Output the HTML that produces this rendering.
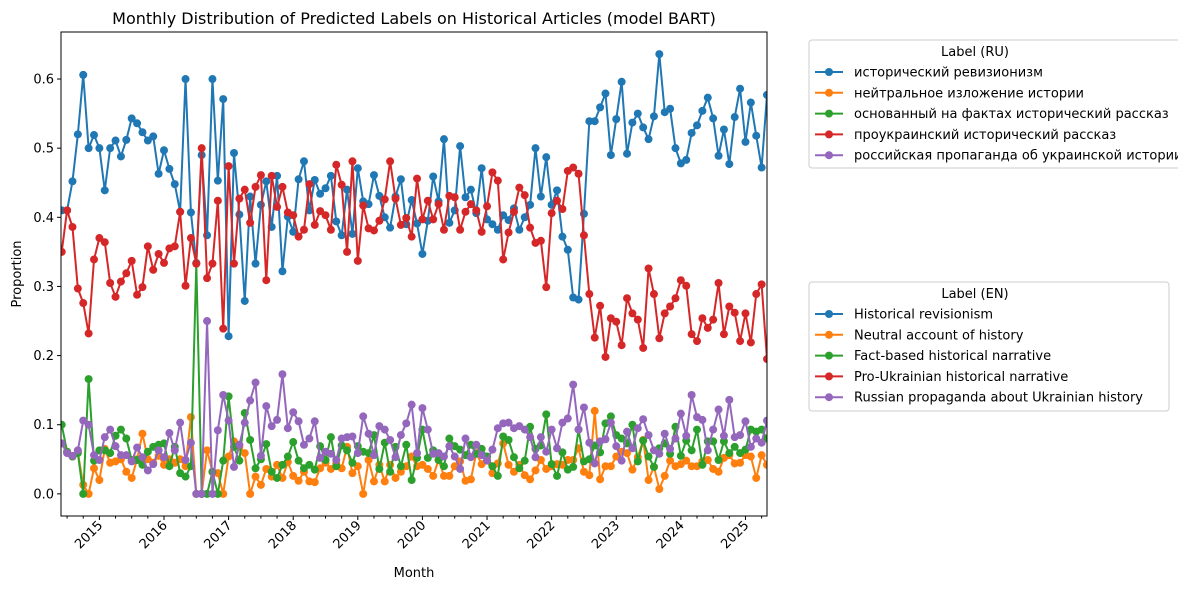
<!DOCTYPE html>
<html><head><meta charset="utf-8">
<style>
body{margin:0;background:#fff;}
svg{display:block;font-family:"DejaVu Sans","Liberation Sans",sans-serif;}
</style></head>
<body>
<svg id="chart" width="1178" height="590" viewBox="0 0 1178 590" xmlns="http://www.w3.org/2000/svg">
<text x="414" y="24" font-size="16" text-anchor="middle" fill="#000">Monthly Distribution of Predicted Labels on Historical Articles (model BART)</text>
<text transform="translate(21,274) rotate(-90)" font-size="13" text-anchor="middle">Proportion</text>
<text x="414" y="577" font-size="13" text-anchor="middle">Month</text>
<g id="axes"></g>
<g id="series"></g>
<rect x="61" y="32" width="706" height="484" fill="none" stroke="#000" stroke-width="1"/>
<g id="legends"></g>
</svg>
<script>
const startYear = 2014, startMonth = 6; // first month of data
const yTicks = [0.0, 0.1, 0.2, 0.3, 0.4, 0.5, 0.6];
const yearTicks = [2015, 2016, 2017, 2018, 2019, 2020, 2021, 2022, 2023, 2024, 2025];
const labelsRU = ["исторический ревизионизм","нейтральное изложение истории","основанный на фактах исторический рассказ","проукраинский исторический рассказ","российская пропаганда об украинской истории"];
const labelsEN = ["Historical revisionism","Neutral account of history","Fact-based historical narrative","Pro-Ukrainian historical narrative","Russian propaganda about Ukrainian history"];
const colors = ["#1f77b4","#ff7f0e","#2ca02c","#d62728","#9467bd"];

const revisionism = [0.41,0.41,0.452,0.52,0.606,0.50,0.519,0.50,0.439,0.50,0.511,0.488,0.512,0.543,0.536,0.523,0.511,0.517,0.463,0.497,0.47,0.448,0.408,0.60,0.407,0.334,0.49,0.374,0.60,0.453,0.571,0.228,0.493,0.404,0.279,0.43,0.333,0.418,0.452,0.386,0.46,0.322,0.401,0.379,0.455,0.481,0.41,0.454,0.434,0.442,0.46,0.394,0.374,0.44,0.376,0.471,0.423,0.419,0.461,0.431,0.40,0.385,0.43,0.455,0.39,0.425,0.391,0.347,0.395,0.459,0.423,0.513,0.392,0.41,0.503,0.429,0.44,0.406,0.471,0.397,0.39,0.382,0.403,0.396,0.413,0.382,0.40,0.418,0.50,0.430,0.487,0.418,0.439,0.372,0.353,0.284,0.281,0.405,0.539,0.539,0.559,0.579,0.490,0.542,0.596,0.492,0.537,0.55,0.530,0.513,0.546,0.636,0.552,0.557,0.50,0.478,0.483,0.522,0.533,0.554,0.573,0.543,0.489,0.527,0.477,0.545,0.586,0.509,0.566,0.518,0.472,0.577];
const neutral = [0.073,0.061,0.054,0.06,0.013,0,0.037,0.02,0.065,0.045,0.047,0.05,0.032,0.023,0.05,0.087,0.05,0.045,0.055,0.042,0.05,0.045,0.05,0.04,0.111,0,0,0.063,0.032,0.03,0,0.054,0.076,0.068,0.059,0,0.025,0.013,0.036,0.025,0.042,0.023,0.046,0.026,0.019,0.032,0.018,0.017,0.037,0.045,0.036,0.044,0.037,0.068,0.03,0.04,0,0.049,0.018,0.042,0.018,0.042,0.023,0.032,0.04,0.054,0.04,0.042,0.036,0.026,0.049,0.026,0.026,0.04,0.047,0.019,0.021,0.059,0.043,0.049,0.03,0.044,0.073,0.042,0.032,0.042,0.027,0.021,0.034,0.049,0.036,0.04,0.043,0.042,0.049,0.049,0.066,0.032,0.027,0.12,0.021,0.04,0.04,0.054,0.061,0.059,0.035,0.053,0.078,0.02,0.039,0.007,0.026,0.048,0.04,0.043,0.048,0.04,0.04,0.047,0.049,0.036,0.032,0.052,0.056,0.044,0.045,0.056,0.054,0.023,0.056,0.042];
const factBased = [0.10,0.061,0.054,0.059,0,0.166,0.048,0.063,0.063,0.059,0.084,0.093,0.08,0.049,0.049,0.042,0.061,0.068,0.071,0.073,0.04,0.068,0.03,0.025,0.04,0.333,0,0,0.032,0,0.048,0.141,0.068,0.048,0.117,0.078,0.037,0.05,0.072,0.032,0.023,0.042,0.054,0.075,0.048,0.037,0.042,0.035,0.069,0.049,0.082,0.04,0.07,0.063,0.045,0.069,0.061,0.059,0.085,0.036,0.074,0.032,0.068,0.04,0.071,0.02,0.052,0.093,0.052,0.063,0.049,0.04,0.08,0.069,0.064,0.056,0.071,0.058,0.065,0.054,0.04,0.026,0.083,0.078,0.053,0.037,0.048,0.097,0.065,0.07,0.115,0.043,0.026,0.06,0.035,0.039,0.093,0.047,0.05,0.07,0.06,0.102,0.112,0.085,0.08,0.073,0.10,0.047,0.077,0.054,0.039,0.066,0.073,0.058,0.097,0.055,0.077,0.063,0.093,0.042,0.076,0.076,0.049,0.076,0.059,0.068,0.059,0.064,0.093,0.09,0.093,0.08];
const proUkrainian = [0.35,0.41,0.386,0.297,0.276,0.232,0.339,0.37,0.364,0.305,0.285,0.307,0.319,0.337,0.288,0.299,0.358,0.324,0.347,0.334,0.355,0.358,0.408,0.301,0.37,0.333,0.50,0.312,0.333,0.424,0.239,0.474,0.333,0.427,0.44,0.392,0.444,0.461,0.309,0.46,0.415,0.444,0.407,0.403,0.372,0.382,0.448,0.389,0.409,0.403,0.382,0.476,0.447,0.35,0.481,0.337,0.417,0.384,0.381,0.395,0.426,0.481,0.427,0.389,0.399,0.372,0.456,0.397,0.424,0.397,0.419,0.382,0.431,0.429,0.382,0.408,0.419,0.41,0.379,0.416,0.465,0.453,0.339,0.378,0.408,0.443,0.432,0.385,0.363,0.366,0.299,0.406,0.424,0.412,0.467,0.472,0.463,0.374,0.289,0.226,0.272,0.198,0.254,0.249,0.215,0.283,0.261,0.252,0.211,0.326,0.289,0.225,0.261,0.271,0.283,0.309,0.301,0.231,0.221,0.254,0.24,0.252,0.305,0.231,0.271,0.262,0.221,0.261,0.219,0.289,0.303,0.195];
const propaganda = [0.073,0.059,0.055,0.063,0.106,0.10,0.056,0.049,0.082,0.093,0.069,0.056,0.056,0.047,0.067,0.053,0.034,0.043,0.063,0.053,0.088,0.063,0.103,0.049,0.074,0,0,0.25,0,0.092,0.143,0.106,0.039,0.071,0.103,0.135,0.161,0.055,0.127,0.098,0.107,0.173,0.095,0.118,0.105,0.071,0.08,0.105,0.052,0.061,0.058,0.049,0.08,0.082,0.083,0.059,0.112,0.087,0.056,0.098,0.093,0.078,0.053,0.085,0.102,0.129,0.059,0.124,0.093,0.058,0.059,0.054,0.069,0.054,0.036,0.08,0.053,0.071,0.056,0.048,0.064,0.095,0.102,0.103,0.095,0.098,0.093,0.082,0.053,0.082,0.061,0.093,0.066,0.103,0.109,0.158,0.093,0.125,0.074,0.044,0.076,0.079,0.103,0.069,0.048,0.09,0.066,0.095,0.108,0.085,0.063,0.058,0.087,0.065,0.08,0.116,0.084,0.143,0.111,0.107,0.063,0.093,0.122,0.084,0.136,0.082,0.085,0.105,0.068,0.08,0.074,0.106];
const seriesList = [revisionism, neutral, factBased, proUkrainian, propaganda];

const NS = "http://www.w3.org/2000/svg";
const L = 61, R = 767, T = 32, B = 516;
const yMin = -0.032, yMax = 0.668;
const step = 5.384;
const x0 = 61.7;
function xm(monthOffset){ return x0 + step * monthOffset; }
function xDate(year, month){ return xm((year - startYear) * 12 + (month - startMonth)); }
function y(v){ return B - (v - yMin) / (yMax - yMin) * (B - T); }
function el(tag, attrs, parent){ const e = document.createElementNS(NS, tag); for (const k in attrs) e.setAttribute(k, attrs[k]); parent.appendChild(e); return e; }

const axes = document.getElementById('axes');
yTicks.forEach(t => {
  const g = el('g', {}, axes);
  
  
  el('line', {x1: L - 4, x2: L, y1: y(t), y2: y(t), stroke: '#000'}, g);
  const tx = el('text', {x: L - 7, y: y(t) + 4.5, 'font-size': 13, 'text-anchor': 'end'}, g);
  tx.textContent = t.toFixed(1);
});
for (let yr = startYear; yr <= 2025; yr++) {
  for (let m = 1; m <= 12; m += 3) {
    const xx = xDate(yr, m);
    if (xx < L - 0.5 || xx > R + 0.5) continue;
    const major = (m === 1);
    const tk = el('line', {x1: xx, x2: xx, y1: B, y2: B + (major ? 4 : 2.5), stroke: '#000'}, axes);
    
    
  }
}
yearTicks.forEach(yr => {
  const xx = xDate(yr, 1);
  const tx = el('text', {transform: `translate(${xx + 4},${B + 10}) rotate(-45)`, 'font-size': 13, 'text-anchor': 'end'}, axes);
  
  
  tx.textContent = String(yr);
});

const sg = document.getElementById('series');
const clip = el('clipPath', {id: 'plotclip'}, sg);
el('rect', {x: L, y: T, width: R - L, height: B - T}, clip);
seriesList.forEach((vals, s) => {
  const g = el('g', {'clip-path': 'url(#plotclip)'}, sg);
  
  
  const pts = vals.map((v, i) => xm(i).toFixed(2) + ',' + y(v).toFixed(2)).join(' ');
  el('polyline', {points: pts, fill: 'none', stroke: colors[s], 'stroke-width': 2, 'stroke-linejoin': 'round'}, g);
  vals.forEach((v, i) => {
    const c = el('circle', {cx: xm(i), cy: y(v), r: 4, fill: colors[s]}, g);
    
    
  });
});

const lg = document.getElementById('legends');
function legend(x, yTop, w, h, title, labels, name){
  const g = el('g', {}, lg);
  
  
  el('rect', {x: x, y: yTop, width: w, height: h, rx: 3, fill: '#fff', stroke: '#ccc'}, g);
  const t = el('text', {x: 975, y: yTop + 16, 'font-size': 13, 'text-anchor': 'middle'}, g);
  t.textContent = title;
  labels.forEach((lab, i) => {
    const ey = yTop + 32 + i * 20.8;
    const e = el('g', {}, g);
    
    
    el('line', {x1: x + 6, x2: x + 34, y1: ey, y2: ey, stroke: colors[i], 'stroke-width': 2}, e);
    el('circle', {cx: x + 20, cy: ey, r: 4, fill: colors[i]}, e);
    const tx = el('text', {x: x + 45, y: ey + 4.5, 'font-size': 13}, e);
    tx.textContent = lab;
  });
}
legend(809, 40, 400, 128, 'Label (RU)', labelsRU, 'legend-ru');
legend(809, 282, 360, 129, 'Label (EN)', labelsEN, 'legend-en');
</script>
</body></html>
